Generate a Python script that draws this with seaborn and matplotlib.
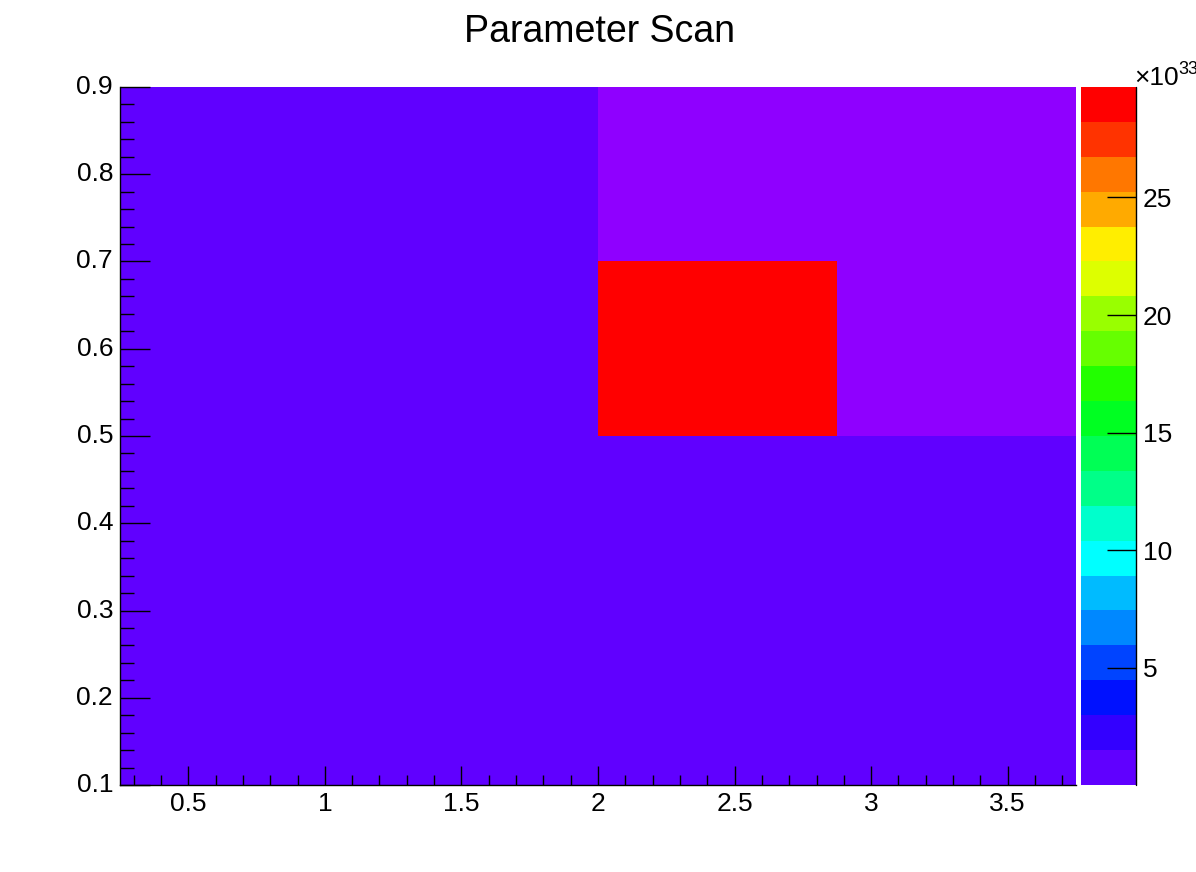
import numpy as np
import pandas as pd
import seaborn as sns
import matplotlib.pyplot as plt
from matplotlib.colors import ListedColormap
from matplotlib.ticker import FixedLocator

# bin edges of the 2D histogram
x_edges = [0.25, 1.125, 2.0, 2.875, 3.75]
y_edges = [0.1, 0.3, 0.5, 0.7, 0.9]

# bin contents in units of 1e33, rows from bottom (y=0.2) to top (y=0.8)
row_y02 = [0.45, 0.45, 0.45, 0.45]
row_y04 = [0.45, 0.45, 0.45, 0.45]
row_y06 = [0.45, 0.45, 29.7, 0.0]
row_y08 = [0.45, 0.45, 0.0, 0.0]

# 20 contour colours, bottom to top
palette = ['#6000FF', '#3300FF', '#0011FF', '#0044FF', '#0088FF',
           '#00BBFF', '#00FFFF', '#00FFCC', '#00FF88', '#00FF55',
           '#00FF22', '#22FF00', '#66FF00', '#99FF00', '#DDFF00',
           '#FFEE00', '#FFAA00', '#FF7700', '#FF3300', '#FF0000']
under_colour = '#8F00FF'

cbar_ticks = [5, 10, 15, 20, 25]
x_major = [0.5, 1.0, 1.5, 2.0, 2.5, 3.0, 3.5]
y_major = [0.1, 0.2, 0.3, 0.4, 0.5, 0.6, 0.7, 0.8, 0.9]

x_centers = [(a + b) / 2 for a, b in zip(x_edges[:-1], x_edges[1:])]
y_centers = [(a + b) / 2 for a, b in zip(y_edges[:-1], y_edges[1:])]
df = pd.DataFrame([row_y02, row_y04, row_y06, row_y08],
                  index=y_centers, columns=x_centers)

sns.set_style('white')
plt.rcParams['font.family'] = ['Liberation Sans', 'DejaVu Sans']
plt.rcParams['text.color'] = 'black'
plt.rcParams['xtick.color'] = 'black'
plt.rcParams['ytick.color'] = 'black'
plt.rcParams['axes.axisbelow'] = False

W, H = 1196, 872
fig = plt.figure(figsize=(W / 100, H / 100), dpi=100)
ax = fig.add_axes([120 / W, (H - 785) / H, (1076 - 120) / W, (785 - 87) / H])
cax = fig.add_axes([1081 / W, (H - 785) / H, (1136 - 1081) / W, (785 - 87) / H])

cmap = ListedColormap(palette)
cmap.set_under(under_colour)

sns.heatmap(df, ax=ax, cbar_ax=cax, cmap=cmap, vmin=0.01, vmax=df.values.max(),
            linewidths=0, cbar_kws={'ticks': cbar_ticks})
ax.set_ylim(0, len(y_centers))
ax.set_xlim(0, len(x_centers))
ax.set_axisbelow(False)
cax.set_axisbelow(False)


def to_x(v):
    return (v - x_edges[0]) / (x_edges[1] - x_edges[0])


def to_y(v):
    return (v - y_edges[0]) / (y_edges[1] - y_edges[0])


ax.xaxis.set_major_locator(FixedLocator([to_x(v) for v in x_major]))
ax.set_xticklabels([f'{v:g}' for v in x_major])
ax.xaxis.set_minor_locator(FixedLocator(
    [to_x(v) for v in np.arange(0.3, 3.75, 0.1) if v >= x_edges[0]]))
ax.yaxis.set_major_locator(FixedLocator([to_y(v) for v in y_major]))
ax.set_yticklabels([f'{v:g}' for v in y_major], rotation=0)
ax.yaxis.set_minor_locator(FixedLocator(
    [to_y(v) for v in np.arange(0.12, 0.9, 0.02)]))
ax.set_xlabel('')
ax.set_ylabel('')

for s in ['top', 'right']:
    ax.spines[s].set_visible(False)
for s in ['left', 'bottom']:
    ax.spines[s].set_visible(True)
    ax.spines[s].set_color('black')
    ax.spines[s].set_linewidth(1)

ax.tick_params(axis='x', which='major', direction='in', length=14, width=1,
               color='black', labelcolor='black', labelsize=19, pad=5,
               bottom=True)
ax.tick_params(axis='x', which='minor', direction='in', length=7, width=1,
               color='black', bottom=True)
ax.tick_params(axis='y', which='major', direction='in', length=21.5, width=1,
               color='black', labelcolor='black', labelsize=19, pad=5,
               left=True)
ax.tick_params(axis='y', which='minor', direction='in', length=10, width=1,
               color='black', left=True)

cb = ax.collections[0].colorbar
cb.outline.set_visible(False)
cax.tick_params(axis='y', which='major', direction='in', length=21, width=1,
                color='black', labelcolor='black', labelsize=19, pad=5,
                right=True)
cax.tick_params(axis='y', which='minor', length=0)
cax.plot([1, 1], [0, 1], transform=cax.transAxes, color='black', lw=1,
         clip_on=False)

fig.text(0.5016, 1 - 32 / H, 'Parameter Scan', ha='center', va='center',
         fontsize=27, color='black')
fig.text(1134 / W, 1 - 85 / H, '×10', ha='left', va='baseline', fontsize=19)
fig.text(1178 / W, 1 - 74 / H, '33', ha='left', va='baseline', fontsize=13)

fig.savefig('out.png', dpi=100, facecolor='white')
